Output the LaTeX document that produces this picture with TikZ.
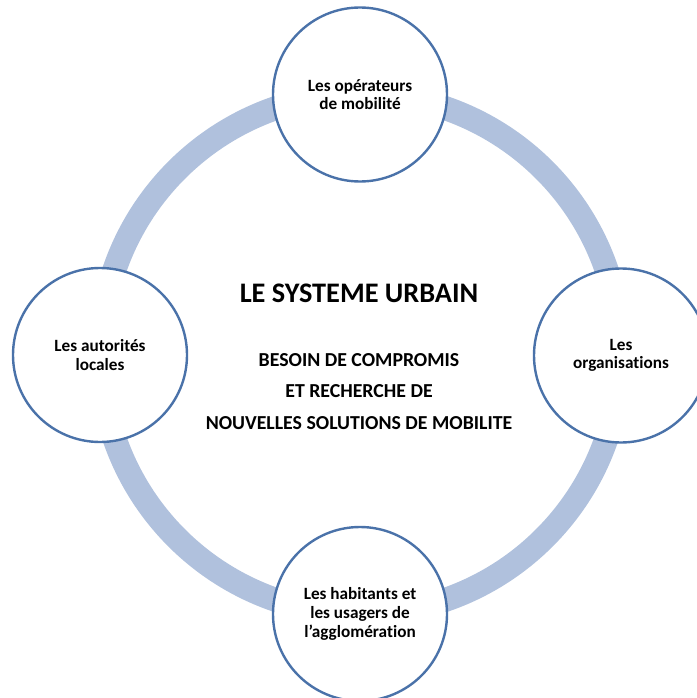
\documentclass[tikz,border=0pt]{standalone}
\usepackage{fontspec}
\setmainfont[Ligatures={NoCommon}]{Carlito}
\definecolor{ringblue}{HTML}{B0C1DD}
\definecolor{edgeblue}{HTML}{4A72A9}
\begin{document}
\begin{tikzpicture}[x=1pt,y=-1pt,
  actor/.style={circle,draw=edgeblue,line width=2.4pt,fill=white,minimum size=174pt,inner sep=0pt,align=center,font=\bfseries\fontsize{17.2}{18.7}\selectfont},
  title/.style={font=\bfseries\fontsize{28.3}{32}\selectfont},
  sub/.style={font=\bfseries\fontsize{19.8}{31.5}\selectfont,align=center}]
\useasboundingbox (0,0) rectangle (696,698);
\coordinate (c) at (360.5,354);
\draw[ringblue,line width=24pt] (c) circle[radius=260];
\node[actor] (top) at (360,94.5) {Les opérateurs\\de mobilité};
\node[actor] (left) at (100,355) {Les autorités\\locales};
\node[actor] (right) at (621,355.5) {Les\\organisations};
\node[actor] (bottom) at (360,614) {Les habitants et\\les usagers de\\l’agglomération};
\node[title] (t) at (359,293) {LE SYSTEME URBAIN};
\node[sub] (s) at (359,391.5) {BESOIN DE COMPROMIS\\ET RECHERCHE DE\\NOUVELLES SOLUTIONS DE MOBILITE};
\end{tikzpicture}
\end{document}
